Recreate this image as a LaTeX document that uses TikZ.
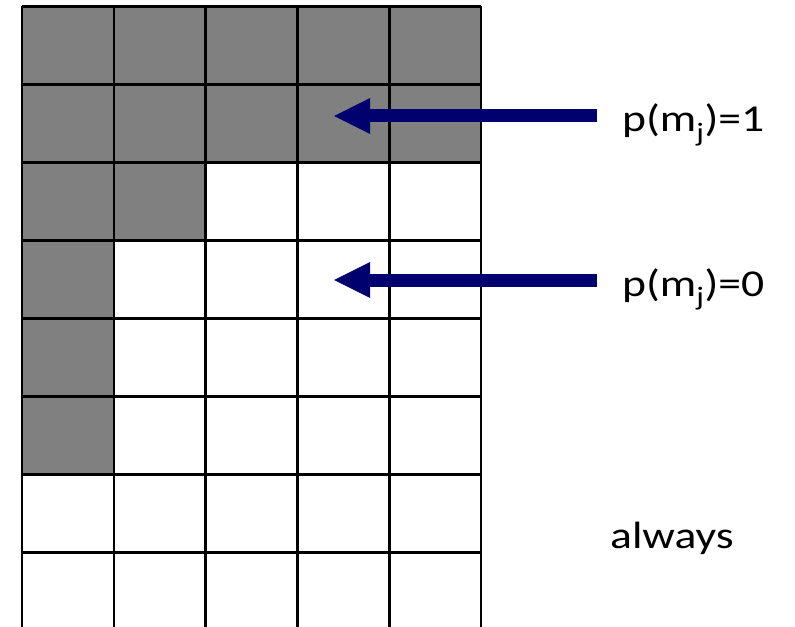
\documentclass[tikz,border=0pt]{standalone}
\usepackage{fontspec}
\setmainfont{Carlito}
\usetikzlibrary{arrows.meta}
\definecolor{cellgray}{RGB}{128,128,128}
\definecolor{arrownavy}{RGB}{0,0,110}
% labels are set slightly wide, as on the slide
\newcommand{\widetext}[1]{\scalebox{1.2}[1]{#1}}
\tikzset{
  gridline/.style={line width=2.6bp, black},
  filled/.style={fill=cellgray},
  label/.style={inner sep=0pt, anchor=base west, font=\fontsize{38bp}{44bp}\selectfont},
  pointer/.style={arrownavy, line width=13bp,
    -{Triangle[length=36bp, width=36bp, line width=0pt]}},
}
\begin{document}
\begin{tikzpicture}[x=1bp, y=-1bp]
  \useasboundingbox (0,0) rectangle (795,627);
  % shaded cells: {column/row} with columns 1..5 and rows 1..8
  \foreach \c/\r in {1/1,2/1,3/1,4/1,5/1,1/2,2/2,3/2,4/2,5/2,1/3,2/3,1/4,1/5,1/6}
    \fill[filled] ({22+(\c-1)*91.8}, {6.5+(\r-1)*78}) rectangle ++(91.8,78);
  % horizontal grid lines
  \foreach \r in {0,...,7}
    \draw[gridline] (22, {6.5+\r*78}) -- (481, {6.5+\r*78});
  % vertical grid lines, running off the bottom edge
  \foreach \c in {0,...,5}
    \draw[gridline] ({22+\c*91.8}, 6.5) -- ({22+\c*91.8}, 640);
  % labels
  \node[label] (l1) at (622,132) {\widetext{p(m\textsubscript{j})=1}};
  \node[label] (l0) at (622,296) {\widetext{p(m\textsubscript{j})=0}};
  \node[label] (la) at (610,548) {\widetext{always}};
  % arrow targets inside the grid
  \coordinate (t1) at (334,116);
  \coordinate (t0) at (334,280);
  \draw[pointer, shorten <=25bp] (l1.west |- t1) -- (t1);
  \draw[pointer, shorten <=25bp] (l0.west |- t0) -- (t0);
\end{tikzpicture}
\end{document}
